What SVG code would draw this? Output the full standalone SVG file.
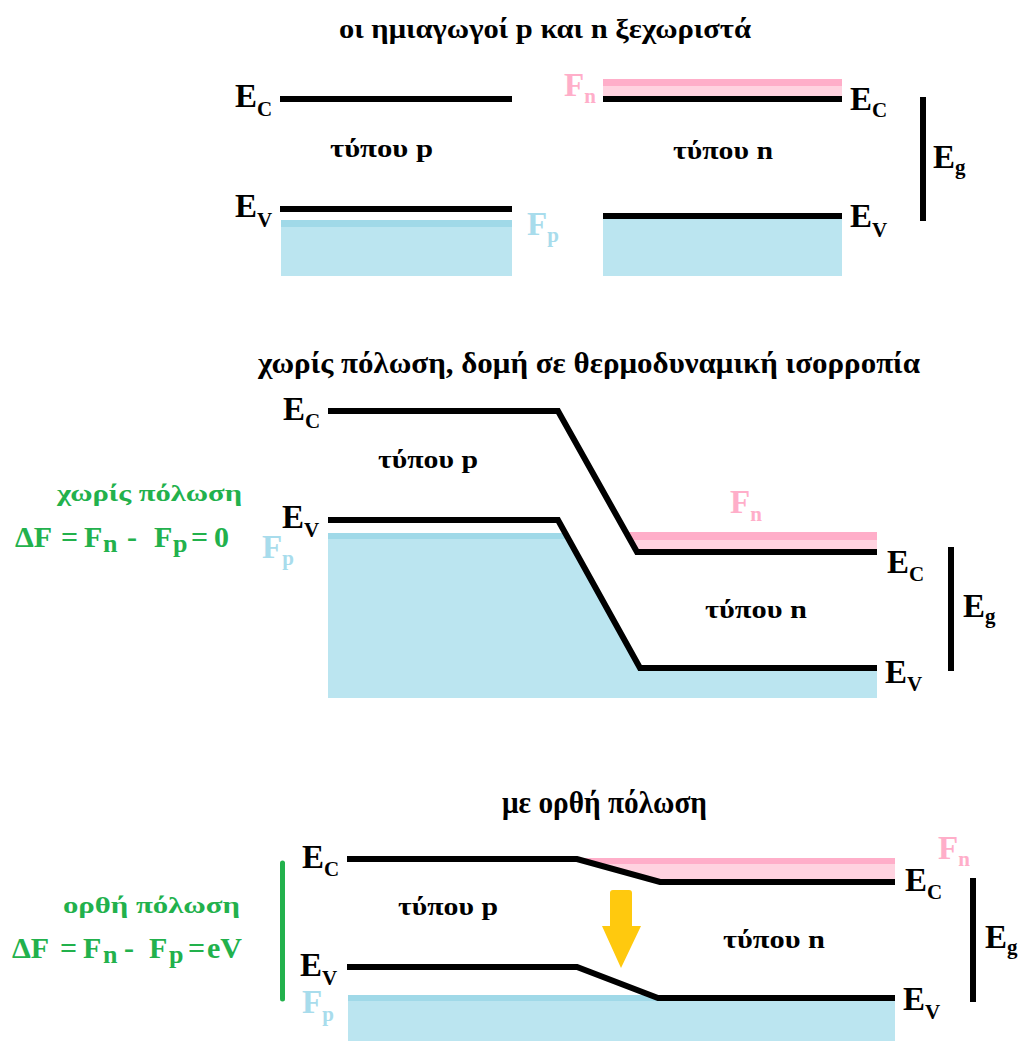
<svg xmlns="http://www.w3.org/2000/svg" width="1022" height="1041" viewBox="0 0 1022 1041">
<style>
text{font-family:"Liberation Serif","DejaVu Serif",serif;font-weight:bold;}
.t{font-size:26px;fill:#000;}
.t1{font-size:28px;fill:#000;}
.t2{font-size:29px;fill:#000;}
.t3{font-size:31px;fill:#000;}
.L{font-size:33px;fill:#000;}
.s{font-size:21px;}
.fn{font-size:33px;fill:#FFAEC9;}
.fp{font-size:33px;fill:#A8DCEC;}
.g{fill:#22B14C;}
.gt{font-size:24px;}
.gf{font-size:30px;}
.gs{font-size:26px;}
.band{fill:none;stroke:#000;stroke-width:6;stroke-linejoin:miter;}
.bar{stroke:#000;stroke-width:6;}
.blue{fill:#BBE5F0;}
.blued{fill:#A0D9E8;}
.pink{fill:#FFD3E0;}
.pinkd{fill:#FFAEC9;}
</style>

<!-- Panel 1 -->
<g id="panel1">
<text class="t1" x="339" y="38" textLength="412" lengthAdjust="spacingAndGlyphs">οι ημιαγωγοί p και n ξεχωριστά</text>
<g id="p1-left">
<rect class="blue" x="281" y="220" width="231" height="56"/>
<rect class="blued" x="281" y="220" width="231" height="7"/>
<line class="bar" x1="280" y1="99" x2="512" y2="99"/>
<line class="bar" x1="280" y1="209" x2="512" y2="209"/>
<text class="L" x="235" y="107">E<tspan class="s" dy="9">C</tspan></text>
<text class="L" x="235" y="217">E<tspan class="s" dy="10">V</tspan></text>
<text class="fp" x="527" y="235">F<tspan class="s" dy="7">p</tspan></text>
<text class="t" x="330" y="157" textLength="103" lengthAdjust="spacingAndGlyphs">τύπου p</text>
</g>
<g id="p1-right">
<rect class="blue" x="603" y="219" width="239" height="57"/>
<rect class="pink" x="603" y="79" width="239" height="18"/>
<rect class="pinkd" x="603" y="79" width="239" height="7"/>
<line class="bar" x1="603" y1="99" x2="842" y2="99"/>
<line class="bar" x1="603" y1="216" x2="842" y2="216"/>
<text class="fn" x="564" y="96">F<tspan class="s" dy="7">n</tspan></text>
<text class="L" x="850" y="110">E<tspan class="s" dy="7">C</tspan></text>
<text class="L" x="850" y="227">E<tspan class="s" dy="10">V</tspan></text>
<text class="t" x="673" y="159" textLength="100" lengthAdjust="spacingAndGlyphs">τύπου n</text>
<line class="bar" x1="923" y1="97" x2="923" y2="221"/>
<text class="L" x="933" y="168">E<tspan class="s" dy="6">g</tspan></text>
</g>
</g>

<!-- Panel 2 -->
<g id="panel2">
<text class="t2" x="258" y="373" textLength="662" lengthAdjust="spacingAndGlyphs">χωρίς πόλωση,  δομή σε θερμοδυναμική ισορροπία</text>
<g id="p2-fills">
<polygon class="blue" points="328,533 566,533 640,668 877,668 877,698 328,698"/>
<polygon class="blued" points="328,533 566,533 569,539 328,539"/>
<polygon class="pink" points="626,532 877,532 877,552 637,552"/>
<polygon class="pinkd" points="626,532 877,532 877,540 630,540"/>
</g>
<g id="p2-bands">
<polyline class="band" points="328,411 558,411 637,552 877,552"/>
<polyline class="band" points="328,520 558,520 640,668 877,668"/>
</g>
<g id="p2-labels">
<text class="L" x="283" y="420">E<tspan class="s" dy="8">C</tspan></text>
<text class="L" x="282" y="528">E<tspan class="s" dy="9">V</tspan></text>
<text class="fp" x="262" y="558">F<tspan class="s" dy="7">p</tspan></text>
<text class="t" x="378" y="468" textLength="100" lengthAdjust="spacingAndGlyphs">τύπου p</text>
<text class="fn" x="730" y="513">F<tspan class="s" dy="8">n</tspan></text>
<text class="L" x="887" y="573">E<tspan class="s" dy="8">C</tspan></text>
<text class="L" x="885" y="683">E<tspan class="s" dy="8">V</tspan></text>
<text class="t" x="705" y="618" textLength="102" lengthAdjust="spacingAndGlyphs">τύπου n</text>
<line class="bar" x1="951" y1="547" x2="951" y2="671"/>
<text class="L" x="963" y="617">E<tspan class="s" dy="6">g</tspan></text>
</g>
<g id="p2-note" class="g">
<text class="gt" x="57" y="501" textLength="185" lengthAdjust="spacingAndGlyphs">χωρίς πόλωση</text>
<text class="gf" x="15" y="547">ΔF<tspan x="61">=</tspan><tspan x="84">F</tspan><tspan class="gs" x="103" dy="5">n</tspan><tspan x="127" dy="-5">-</tspan><tspan x="154">F</tspan><tspan class="gs" x="173" dy="5">p</tspan><tspan x="191" dy="-5">=</tspan><tspan x="214">0</tspan></text>
</g>
</g>

<!-- Panel 3 -->
<g id="panel3">
<text class="t3" x="502" y="813" textLength="205" lengthAdjust="spacingAndGlyphs">με ορθή  πόλωση</text>
<g id="p3-fills">
<rect class="blue" x="348" y="995" width="547" height="46"/>
<rect class="blued" x="348" y="995" width="547" height="6"/>
<polygon class="pink" points="577,858 895,858 895,882 660,882"/>
<polygon class="pinkd" points="577,858 895,858 895,864 598,864"/>
</g>
<g id="p3-bands">
<polyline class="band" points="347,859 577,859 660,882 895,882"/>
<polyline class="band" points="347,967 577,967 658,998 895,998"/>
</g>
<g id="arrow">
<path d="M610,926 V893 a3,3 0 0 1 3,-3 H629 a3,3 0 0 1 3,3 V926 H641 L621,968 L602,926 Z" fill="#FFC90E"/>
</g>
<g id="p3-labels">
<text class="L" x="302" y="868">E<tspan class="s" dy="8">C</tspan></text>
<text class="L" x="300" y="976">E<tspan class="s" dy="9">V</tspan></text>
<text class="fp" x="302" y="1013">F<tspan class="s" dy="8">p</tspan></text>
<text class="t" x="398" y="915" textLength="100" lengthAdjust="spacingAndGlyphs">τύπου p</text>
<text class="fn" x="938" y="859">F<tspan class="s" dy="7">n</tspan></text>
<text class="L" x="905" y="891">E<tspan class="s" dy="8">C</tspan></text>
<text class="L" x="903" y="1010">E<tspan class="s" dy="9">V</tspan></text>
<text class="t" x="723" y="948" textLength="102" lengthAdjust="spacingAndGlyphs">τύπου n</text>
<line class="bar" x1="973" y1="878" x2="973" y2="1002"/>
<text class="L" x="985" y="948">E<tspan class="s" dy="6">g</tspan></text>
</g>
<g id="p3-note" class="g">
<line x1="282.5" y1="863" x2="282.5" y2="999" stroke="#22B14C" stroke-width="5" stroke-linecap="round"/>
<text class="gt" x="63" y="913" textLength="177" lengthAdjust="spacingAndGlyphs">ορθή πόλωση</text>
<text class="gf" x="12" y="958">ΔF<tspan x="60">=</tspan><tspan x="83">F</tspan><tspan class="gs" x="103" dy="5">n</tspan><tspan x="124" dy="-5">-</tspan><tspan x="149">F</tspan><tspan class="gs" x="169" dy="5">p</tspan><tspan x="188" dy="-5">=</tspan><tspan x="207">eV</tspan></text>
</g>
</g>
</svg>
